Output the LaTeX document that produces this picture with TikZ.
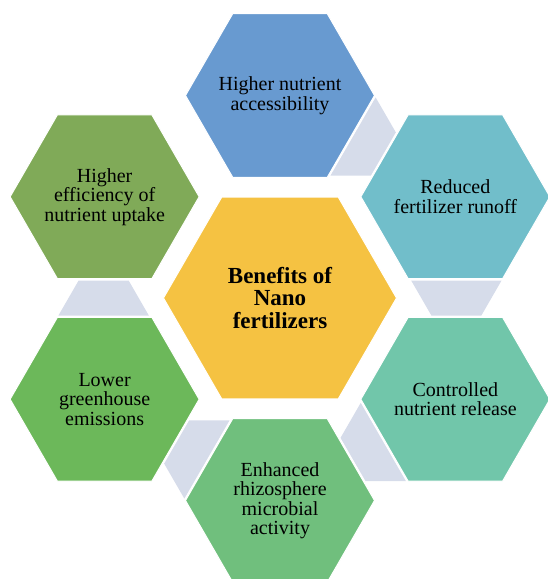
\documentclass[tikz,border=0pt]{standalone}
\usepackage{fontspec}
\setmainfont{Liberation Serif}
\usepackage{tikz}
\usetikzlibrary{calc,backgrounds}

\definecolor{hexcentre}{RGB}{245,194,66}
\definecolor{hexblue}{RGB}{104,154,208}
\definecolor{hexteal}{RGB}{113,190,202}
\definecolor{hexmint}{RGB}{113,198,170}
\definecolor{hexgreen}{RGB}{112,191,125}
\definecolor{hexgrass}{RGB}{108,184,90}
\definecolor{hexolive}{RGB}{128,170,88}
\definecolor{jointgrey}{RGB}{214,220,234}

\begin{document}
\begin{tikzpicture}[x=1pt,y=1pt,
   label/.style={inner sep=0pt,font=\fontsize{20}{19.5}\selectfont},
   hexline/.style={draw=white,line width=1pt},
   joint/.style={fill=jointgrey}]

   \useasboundingbox (-280,-281) rectangle (267,298);

   \node[label,font=\fontsize{23}{22.5}\selectfont\bfseries] at (0,0) (nano) {\parbox{150pt}{\centering Benefits of\\ Nano\\ fertilizers}};

   \node[label] at (90:202.5) (access) {\parbox{130pt}{\centering Higher nutrient\\ accessibility}};
   \node[label] at (30:202.5) (runoff) {\parbox{130pt}{\centering Reduced\\ fertilizer runoff}};
   \node[label] at (-30:202.5) (release) {\parbox{130pt}{\centering Controlled\\ nutrient release}};
   \node[label] at (-90:202.5) (microbe) {\parbox{130pt}{\centering Enhanced\\ rhizosphere\\ microbial\\ activity}};
   \node[label] at (-150:202.5) (emission) {\parbox{130pt}{\centering Lower\\ greenhouse\\ emissions}};
   \node[label] at (150:202.5) (uptake) {\parbox{130pt}{\centering Higher\\ efficiency of\\ nutrient uptake}};

   \begin{scope}[on background layer]
      \foreach \from/\to/\ang in {access/runoff/60,runoff/release/0,release/microbe/-60,
                                  microbe/emission/-120,emission/uptake/180}
         \fill[joint,shift={($(\from)!0.5!(\to)$)},rotate=\ang]
            (-24,-17.5) -- (26,-17.5) -- (46.2,17.5) -- (-44.2,17.5) -- cycle;

      \foreach \n/\r/\c in {nano/116.5/hexcentre,access/94.5/hexblue,runoff/94.5/hexteal,
                            release/94.5/hexmint,microbe/94.5/hexgreen,
                            emission/94.5/hexgrass,uptake/94.5/hexolive}
         \filldraw[hexline,fill=\c] (\n.center) +(0:\r) -- +(60:\r) -- +(120:\r)
            -- +(180:\r) -- +(240:\r) -- +(300:\r) -- cycle;
   \end{scope}
\end{tikzpicture}
\end{document}
